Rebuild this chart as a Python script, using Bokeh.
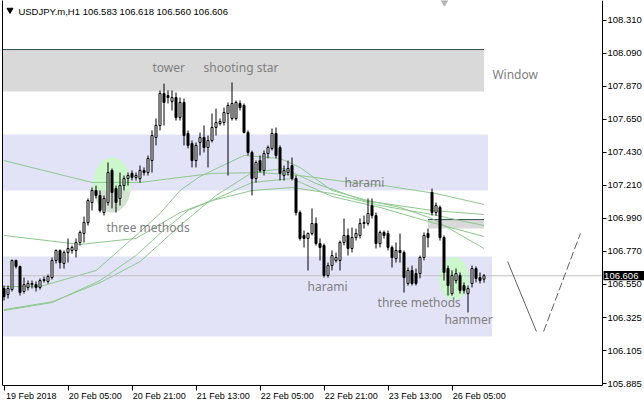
import numpy as np
from bokeh.plotting import figure
from bokeh.models import (ColumnDataSource, FixedTicker, LinearAxis, Range1d,
                          Label, PrintfTickFormatter)
from bokeh.core.properties import value
from bokeh.embed import file_html
from bokeh.resources import INLINE

# ---------------- data ----------------
symbol = "USDJPY.m,H1"

opens = [106.521, 106.481, 106.514, 106.708, 106.668, 106.501, 106.528, 106.547, 106.547, 106.528,
         106.574, 106.568, 106.594, 106.708, 106.775, 106.688, 106.761, 106.775, 106.775, 106.828,
         106.888, 106.961, 107.095, 107.175, 107.142, 107.028, 107.095, 107.309, 107.188, 107.122,
         107.208, 107.255, 107.289, 107.262, 107.255, 107.309, 107.295, 107.375, 107.529, 107.609,
         107.823, 107.809, 107.769, 107.796, 107.662, 107.763, 107.556, 107.489, 107.375, 107.496,
         107.529, 107.462, 107.509, 107.596, 107.622, 107.629, 107.689, 107.656, 107.656, 107.756,
         107.743, 107.562, 107.429, 107.255, 107.375, 107.309, 107.422, 107.456, 107.556, 107.462,
         107.275, 107.295, 107.342, 107.255, 107.028, 106.875, 106.855, 106.888, 106.955, 106.821,
         106.808, 106.608, 106.674, 106.708, 106.708, 106.828, 106.875, 106.788, 106.861, 106.875,
         106.955, 106.955, 107.075, 107.008, 106.821, 106.895, 106.888, 106.795, 106.721, 106.775,
         106.761, 106.554, 106.641, 106.621, 106.621, 106.728, 106.888, 107.162, 107.028, 107.062,
         106.861, 106.654, 106.487, 106.574, 106.608, 106.541, 106.487, 106.554, 106.654, 106.594,
         106.583]
highs = [106.541, 106.541, 106.714, 106.714, 106.674, 106.594, 106.574, 106.574, 106.568, 106.588,
         106.601, 106.614, 106.728, 106.781, 106.781, 106.775, 106.855, 106.808, 106.855, 106.908,
         107.001, 107.122, 107.195, 107.208, 107.175, 107.142, 107.362, 107.322, 107.208, 107.295,
         107.275, 107.295, 107.309, 107.295, 107.342, 107.329, 107.409, 107.576, 107.656, 107.843,
         107.889, 107.843, 107.843, 107.829, 107.796, 107.789, 107.576, 107.509, 107.496, 107.562,
         107.609, 107.542, 107.689, 107.722, 107.656, 107.729, 107.763, 107.896, 107.776, 107.776,
         107.756, 107.576, 107.442, 107.375, 107.409, 107.442, 107.476, 107.589, 107.596, 107.476,
         107.342, 107.375, 107.395, 107.275, 107.042, 106.908, 106.895, 107.055, 106.995, 106.855,
         106.821, 106.694, 106.775, 106.761, 106.841, 106.988, 106.921, 106.928, 106.921, 106.988,
         107.008, 107.122, 107.122, 107.028, 106.908, 106.908, 106.908, 106.808, 106.828, 106.888,
         106.775, 106.661, 106.674, 106.654, 106.741, 106.895, 106.921, 107.188, 107.095, 107.075,
         106.875, 106.674, 106.641, 106.654, 106.628, 106.561, 106.541, 106.674, 106.668, 106.628,
         106.618]
lows = [106.441, 106.454, 106.501, 106.654, 106.474, 106.487, 106.508, 106.521, 106.501, 106.514,
        106.561, 106.554, 106.581, 106.688, 106.654, 106.654, 106.694, 106.754, 106.728, 106.808,
        106.828, 106.941, 107.042, 107.122, 107.028, 107.008, 107.075, 107.055, 107.028, 107.075,
        107.175, 107.208, 107.242, 107.242, 107.228, 107.275, 107.275, 107.295, 107.476, 107.576,
        107.609, 107.756, 107.709, 107.642, 107.642, 107.476, 107.456, 107.329, 107.329, 107.409,
        107.429, 107.329, 107.496, 107.542, 107.609, 107.609, 107.275, 107.642, 107.642, 107.709,
        107.556, 107.409, 107.142, 107.228, 107.295, 107.275, 107.389, 107.442, 107.389, 107.242,
        107.242, 107.275, 107.242, 107.008, 106.841, 106.795, 106.641, 106.875, 106.808, 106.708,
        106.594, 106.594, 106.641, 106.694, 106.641, 106.808, 106.741, 106.761, 106.841, 106.855,
        106.921, 106.941, 106.988, 106.788, 106.795, 106.855, 106.775, 106.661, 106.694, 106.694,
        106.494, 106.541, 106.541, 106.541, 106.588, 106.708, 106.795, 107.008, 107.008, 106.841,
        106.574, 106.474, 106.474, 106.554, 106.487, 106.487, 106.361, 106.528, 106.561, 106.554,
        106.560]
closes = [106.467, 106.521, 106.708, 106.668, 106.494, 106.547, 106.554, 106.554, 106.528, 106.574,
          106.581, 106.601, 106.708, 106.775, 106.694, 106.761, 106.788, 106.795, 106.828, 106.895,
          106.961, 107.108, 107.175, 107.142, 107.042, 107.122, 107.295, 107.162, 107.095, 107.208,
          107.255, 107.275, 107.262, 107.275, 107.309, 107.295, 107.389, 107.542, 107.609, 107.823,
          107.763, 107.796, 107.796, 107.662, 107.763, 107.542, 107.476, 107.375, 107.476, 107.529,
          107.462, 107.509, 107.596, 107.629, 107.636, 107.696, 107.743, 107.756, 107.763, 107.729,
          107.562, 107.429, 107.255, 107.362, 107.309, 107.422, 107.462, 107.556, 107.409, 107.289,
          107.309, 107.322, 107.255, 107.028, 106.855, 106.855, 106.888, 106.955, 106.821, 106.795,
          106.608, 106.674, 106.741, 106.728, 106.828, 106.875, 106.788, 106.861, 106.888, 106.955,
          106.961, 107.022, 107.008, 106.821, 106.895, 106.875, 106.795, 106.728, 106.775, 106.761,
          106.594, 106.641, 106.554, 106.554, 106.728, 106.875, 106.861, 107.028, 107.075, 106.861,
          106.628, 106.541, 106.608, 106.621, 106.508, 106.508, 106.521, 106.654, 106.588, 106.574,
          106.606]

time_ticks = [0, 16, 32, 48, 64, 80, 96, 112]
time_labels = ["19 Feb 2018", "20 Feb 05:00", "20 Feb 21:00", "21 Feb 13:00",
               "22 Feb 05:00", "22 Feb 21:00", "23 Feb 13:00", "26 Feb 05:00"]
price_ticks = [108.310, 108.090, 107.870, 107.650, 107.430, 107.210,
               106.990, 106.770, 106.550, 106.325, 106.105, 105.885]

# moving averages (bar index, price)
ma1_bar = [0, 12, 22, 34, 52, 64, 74, 85, 95, 108, 120]
ma1_val = [107.375, 107.295, 107.229, 107.229, 107.289, 107.295, 107.275, 107.235, 107.208, 107.155, 107.082]
ma2_bar = [0, 19, 33, 44, 52, 62, 72, 82, 94, 107, 120]
ma2_val = [106.875, 106.815, 106.855, 107.028, 107.108, 107.175, 107.195, 107.155, 107.075, 107.015, 106.941]
ma3_bar = [0, 9, 23, 33, 39, 44, 49, 60, 69, 74, 82, 91, 99, 107, 120]
ma3_val = [106.534, 106.534, 106.641, 106.875, 107.022, 107.175, 107.269, 107.409, 107.389, 107.329,
           107.175, 107.108, 107.062, 106.988, 106.788]
ma4_bar = [0, 12, 24, 33, 39, 46, 52, 62, 72, 82, 94, 107, 120]
ma4_val = [106.374, 106.427, 106.574, 106.741, 106.888, 107.042, 107.108, 107.229, 107.255, 107.135,
           107.062, 106.961, 106.868]
ma5_bar = [0, 12, 24, 34, 44, 53, 62, 70, 78, 90, 107, 120]
ma5_val = [106.380, 106.432, 106.560, 106.700, 106.941, 107.142, 107.295, 107.322, 107.222, 107.108,
           107.042, 107.015]

# pattern zones (start bar, end bar, upper price, lower price)
zone_start = [-5, -5, -5, 106]
zone_end = [120, 121, 122, 120]
zone_top = [108.116, 107.549, 106.734, 106.981]
zone_bottom = [107.836, 107.175, 106.200, 106.921]
zone_kind = ["gap", "band", "band", "gap"]

# pattern highlight ellipses (center bar, center price, width in bars, height in price)
ell_bar = [27.0, 112.5]
ell_price = [107.212, 106.588]
ell_w = [9.5, 7.5]
ell_h = [0.367, 0.287]

# pattern names
pat_text = ["tower", "shooting star", "Window", "three methods", "harami",
            "harami", "three methods", "hammer"]

# projection path
proj1_bar = [125.9, 133.1]
proj1_val = [106.701, 106.234]
proj2_bar = [134.9, 144.1]
proj2_val = [106.234, 106.888]

# ---------------- figure ----------------
X0 = -0.375          # left edge of the chart area (bars)
X_AXIS = 149.625     # where the price scale sits (bars)
Y_TOP = 108.4435     # top edge of the chart area (price)
Y_AXIS = 105.8734    # where the time scale sits (price)
p = figure(width=644, height=406, output_backend="svg", toolbar_location=None,
           x_range=Range1d(X0, 160.125), y_range=Range1d(105.7332, Y_TOP),
           x_axis_location=None, y_axis_location=None,
           min_border_left=2, min_border_right=0, min_border_top=0, min_border_bottom=0)
p.background_fill_color = "white"
p.border_fill_color = "white"
p.outline_line_color = None
p.xgrid.visible = False
p.ygrid.visible = False

FONT = "Liberation Sans"

# zones
zcol = {"gap": "#d9d9d9", "band": "#e3e3f8"}
p.quad(left=zone_start, right=zone_end, top=zone_top, bottom=zone_bottom,
       fill_color=[zcol[k] for k in zone_kind], line_color=None)
gap_i = [i for i, k in enumerate(zone_kind) if k == "gap"]
p.segment(x0=[zone_start[i] for i in gap_i], x1=[zone_end[i] for i in gap_i],
          y0=[zone_top[i] for i in gap_i], y1=[zone_top[i] for i in gap_i],
          line_color="#2f4f4f", line_width=1)

# ellipses
p.ellipse(x=ell_bar, y=ell_price, width=ell_w, height=ell_h,
          fill_color="#ccf7cc", line_color=None)
t = np.linspace(0, 2 * np.pi, 240)
ex = ell_bar[0] + ell_w[0] / 2 * np.cos(t)
ey = ell_price[0] + ell_h[0] / 2 * np.sin(t)
p.patch(ex, np.minimum(ey, zone_bottom[1]), fill_color="#d3e2d3", line_color=None)

# moving averages
for bx, bv in [(ma1_bar, ma1_val), (ma2_bar, ma2_val), (ma3_bar, ma3_val),
               (ma4_bar, ma4_val), (ma5_bar, ma5_val)]:
    p.line(bx, bv, line_color="#8cc88c", line_width=1)

# current price line
p.segment(x0=[X0 - 1], x1=[X_AXIS], y0=[closes[-1]], y1=[closes[-1]],
          line_color="#c0c0c0", line_width=1)

# candles
o = np.array(opens)
c = np.array(closes)
idx = np.arange(len(o))
src = ColumnDataSource(dict(x=idx, high=highs, low=lows,
                            top=np.maximum(o, c), bottom=np.minimum(o, c),
                            fill=np.where(c >= o, "white", "black")))
p.segment(x0="x", y0="low", x1="x", y1="high", source=src, line_color="black", line_width=1)
p.vbar(x="x", width=0.5, top="top", bottom="bottom", source=src,
       fill_color="fill", line_color="black", line_width=1)

# projection
p.line(proj1_bar, proj1_val, line_color="#606060", line_width=1)
p.line(proj2_bar, proj2_val, line_color="#606060", line_width=1, line_dash="8 3")

# pattern labels
pat_x = [37.1, 49.9, 122.1, 25.6, 85.1, 75.9, 93.4, 110.1]
pat_y = [107.998, 107.998, 107.949, 106.928, 107.226, 106.536, 106.425, 106.314]
p.text(x=pat_x, y=pat_y, text=pat_text, text_font=value("Noto Sans"), text_font_size="12px",
       text_color="#808080", text_baseline="alphabetic", text_align="left")

# header
p.scatter(x=[1.5], y=[108.380], marker="inverted_triangle", size=6, color="black")
p.scatter(x=[110.1], y=[108.437], marker="inverted_triangle", size=8, color="#b4b4b4")
header = f"{symbol}  {opens[-1]:.3f} {highs[-1]:.3f} {lows[-1]:.3f} {closes[-1]:.3f}"
p.add_layout(Label(x=3.6, y=108.372, text=header, text_font=FONT, text_font_size="9.5px",
                   text_color="black", text_baseline="alphabetic", text_align="left"))

# current price tag on the price scale
p.quad(left=[X_AXIS + 0.25], right=[161], top=[closes[-1] + 0.031], bottom=[closes[-1] - 0.030],
       fill_color="black", line_color=None)
p.add_layout(Label(x=X_AXIS + 0.4, y=closes[-1], text=f"{closes[-1]:.3f}", text_font=FONT,
                   text_font_size="9.5px", text_color="white",
                   text_baseline="middle", text_align="left"))

# axes
yax = LinearAxis(ticker=FixedTicker(ticks=price_ticks), fixed_location=X_AXIS,
                 bounds=(Y_AXIS, Y_TOP),
                 formatter=PrintfTickFormatter(format="%.3f"),
                 major_tick_out=4, major_tick_in=0, minor_tick_line_color=None,
                 major_label_standoff=1, major_label_text_font=FONT,
                 major_label_text_font_size="9.5px", major_label_text_color="black",
                 axis_line_color="black", major_tick_line_color="black")
p.add_layout(yax, "right")

label_shift = 6.8
xax = LinearAxis(ticker=FixedTicker(ticks=[tt + label_shift for tt in time_ticks],
                                    minor_ticks=time_ticks),
                 fixed_location=Y_AXIS, bounds=(X0, X_AXIS),
                 major_label_overrides={tt + label_shift: lab for tt, lab in zip(time_ticks, time_labels)},
                 major_tick_line_color=None, major_tick_out=3, major_tick_in=0,
                 minor_tick_line_color="black", minor_tick_out=5, minor_tick_in=0,
                 major_label_standoff=1, major_label_text_font=FONT,
                 major_label_text_font_size="9px", major_label_text_color="black",
                 axis_line_color="black")
p.add_layout(xax, "below")

lax = LinearAxis(ticker=FixedTicker(ticks=[]), axis_line_color="black", bounds=(Y_AXIS, Y_TOP),
                 major_tick_out=0, major_tick_in=0, minor_tick_out=0, minor_tick_in=0,
                 major_label_standoff=0)
p.add_layout(lax, "left")

open("out.html", "w").write(file_html(p, INLINE))
